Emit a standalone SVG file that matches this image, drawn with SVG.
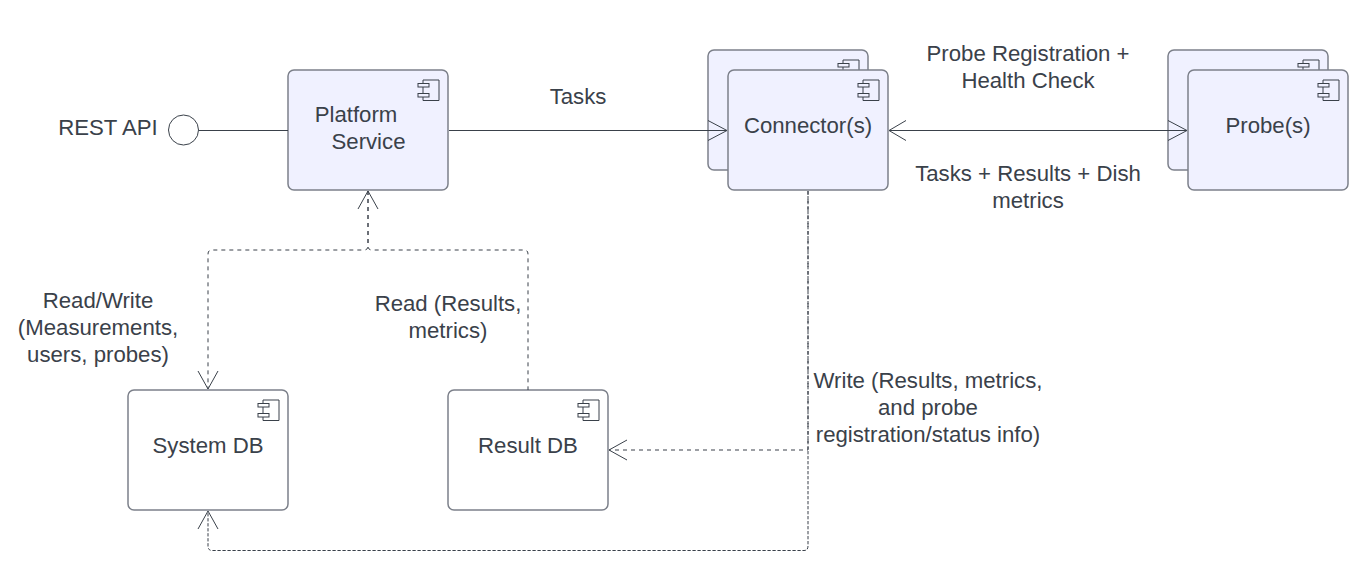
<svg xmlns="http://www.w3.org/2000/svg" width="1370" height="584" viewBox="0 0 1370 584">
<style>
.box{fill:#f0f1ff;stroke:#7c808a;stroke-width:1.5}
.white{fill:#fff}
.ico{fill:none;stroke:#3a414a;stroke-width:1}
.t{font-family:"Liberation Sans",Arial,sans-serif;font-size:22.2px;fill:#3a414a;text-anchor:middle}
.ln{fill:none;stroke:#3a414a;stroke-width:1}
.da{fill:none;stroke:#3a414a;stroke-width:1;stroke-dasharray:4 4}
.db{fill:none;stroke:#3a414a;stroke-width:1;stroke-dasharray:3.300 1.700}
</style>
<defs>
<g id="ci" class="ico"><path d="M-16 -6.500V-10H0V10.500H-16V7"/><path d="M-16 -3V3.500"/><rect x="-21" y="-6.500" width="11" height="3.500"/><rect x="-21" y="3.500" width="11" height="3.500"/></g>
</defs>
<rect width="1370" height="584" fill="#fff"/>
<g id="rest-api"><circle cx="183.500" cy="130" r="15" fill="#fff" stroke="#3a414a" stroke-width="1"/><text class="t" x="108" y="134.500">REST API</text></g>
<g id="platform-service"><rect class="box" x="288" y="70" width="160" height="120" rx="6"/><use href="#ci" x="439" y="90"/><text class="t" x="356" y="121.500">Platform</text><text class="t" x="368.500" y="148.500">Service</text></g>
<g id="connector"><rect class="box" x="708" y="50" width="160" height="120" rx="6"/><use href="#ci" x="859" y="70"/><rect class="box" x="728" y="70" width="160" height="120" rx="6"/><use href="#ci" x="879" y="90"/><text class="t" x="808" y="132.500">Connector(s)</text></g>
<g id="probe"><rect class="box" x="1168" y="50" width="160" height="120" rx="6"/><use href="#ci" x="1319" y="70"/><rect class="box" x="1188" y="70" width="160" height="120" rx="6"/><use href="#ci" x="1339" y="90"/><text class="t" x="1268" y="132.500">Probe(s)</text></g>
<g id="system-db"><rect class="box white" x="128" y="390" width="160" height="120" rx="6"/><use href="#ci" x="279" y="410"/><text class="t" x="208" y="452.500">System DB</text></g>
<g id="result-db"><rect class="box white" x="448" y="390" width="160" height="120" rx="6"/><use href="#ci" x="599" y="410"/><text class="t" x="528" y="452.500">Result DB</text></g>
<g id="connectors">
<path class="ln" d="M199 130.500H288"/>
<path class="ln" d="M449 130.500H727"/>
<path class="ln" d="M708 120.500L727 130.500L708 140.500"/>
<path class="ln" d="M889 130.500H1187"/>
<path class="ln" d="M906 120.500L889 130.500L906 140.500"/>
<path class="ln" d="M1168 120.500L1187 130.500L1168 140.500"/>
<path class="ln" d="M358 209L368 191L378 209"/>
<path class="da" d="M368 191V246Q368 250 364 250H212Q208 250 208 254V389"/>
<path class="ln" d="M198 371L208 389L218 371"/>
<path class="da" d="M368 191V246Q368 250 372 250H524Q528 250 528 254V390"/>
<path class="db" d="M808 191V546Q808 550.500 804 550.500H212Q208 550.500 208 546V511"/>
<path class="ln" d="M198 529L208 511L218 529"/>
<path class="da" d="M808 191V450H609"/>
<path class="ln" d="M627 440L609 450L627 460"/>
</g>
<g id="labels">
<text class="t" x="578" y="104">Tasks</text>
<text class="t" x="1028" y="61">Probe Registration +</text>
<text class="t" x="1028" y="88">Health Check</text>
<text class="t" x="1028" y="181">Tasks + Results + Dish</text>
<text class="t" x="1028" y="208">metrics</text>
<text class="t" x="98" y="308">Read/Write</text>
<text class="t" x="98" y="335">(Measurements,</text>
<text class="t" x="98" y="362">users, probes)</text>
<text class="t" x="448" y="311">Read (Results,</text>
<text class="t" x="448" y="338">metrics)</text>
<text class="t" x="928" y="388">Write (Results, metrics,</text>
<text class="t" x="928" y="415">and probe</text>
<text class="t" x="928" y="442">registration/status info)</text>
</g>
</svg>
